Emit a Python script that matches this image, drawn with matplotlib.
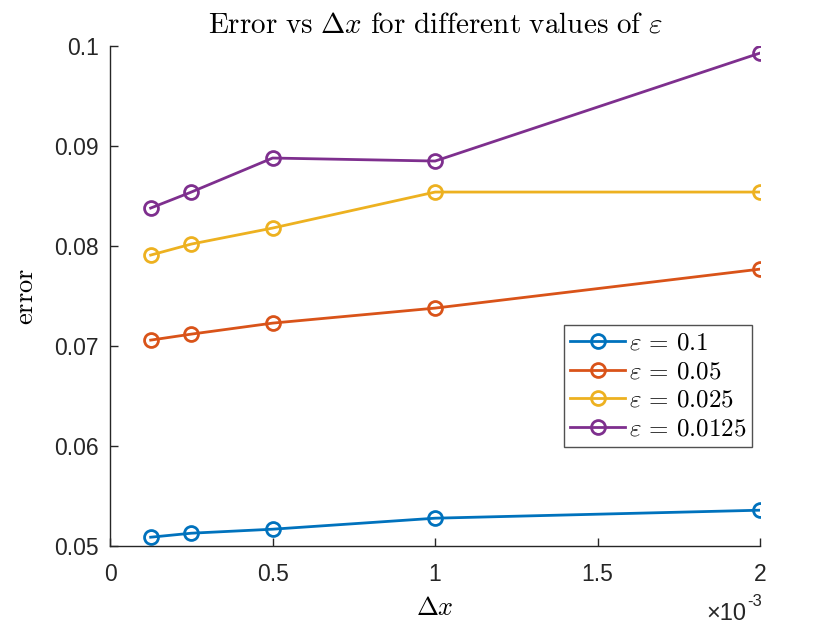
import matplotlib
matplotlib.use("Agg")
import matplotlib.pyplot as plt
from matplotlib.ticker import FuncFormatter

plt.rcParams['mathtext.fontset'] = 'cm'
plt.rcParams['font.family'] = ['Liberation Sans', 'DejaVu Sans']

# data
dx = [0.125e-3, 0.25e-3, 0.5e-3, 1e-3, 2e-3]
eps_labels = ["0.1", "0.05", "0.025", "0.0125"]
err_01 = [0.0509, 0.0513, 0.0517, 0.0528, 0.0536]
err_005 = [0.0706, 0.0712, 0.0723, 0.0738, 0.0777]
err_0025 = [0.0791, 0.0802, 0.0818, 0.0854, 0.0854]
err_00125 = [0.0838, 0.0854, 0.0888, 0.0885, 0.0993]
colors = ["#0072BD", "#D95319", "#EDB120", "#7E2F8E"]

fig = plt.figure(figsize=(8.4, 6.3), dpi=100)
ax = fig.add_axes([0.131, 0.133, 0.774, 0.794])

for err, lab, c in zip([err_01, err_005, err_0025, err_00125], eps_labels, colors):
    ax.plot(dx, err, '-o', color=c, lw=2, ms=10, mfc='none', mew=2,
            label=r'$\varepsilon\,=\,%s$' % lab)

ax.set_xlim(0, 2e-3)
ax.set_ylim(0.05, 0.1)
ax.set_xticks([0, 0.5e-3, 1e-3, 1.5e-3, 2e-3])
ax.set_yticks([0.05, 0.06, 0.07, 0.08, 0.09, 0.1])
ax.xaxis.set_major_formatter(FuncFormatter(lambda v, p: "%g" % round(v * 1e3, 6)))
ax.yaxis.set_major_formatter(FuncFormatter(lambda v, p: "%g" % round(v, 6)))
ax.tick_params(direction='in', labelsize=16.5, length=6, width=1, colors='#262626')
ax.tick_params(axis='x', pad=12)
ax.tick_params(axis='y', pad=8)
for s in ['top', 'right']:
    ax.spines[s].set_visible(False)
for s in ['left', 'bottom']:
    ax.spines[s].set_color('#262626')
    ax.spines[s].set_linewidth(1)

ax.set_title(r'$\mathrm{Error\ vs\ }\Delta x\mathrm{\ for\ different\ values\ of\ }\varepsilon$',
             fontsize=21, pad=10)
ax.set_xlabel(r'$\Delta x$', fontsize=19, labelpad=7)
ax.set_ylabel(r'$\mathrm{error}$', fontsize=19, labelpad=12)

# exponent label like MATLAB
ax.text(0.978, -0.135, u"\u00d710", transform=ax.transAxes, fontsize=17,
        ha='right', va='center', color='#262626')
ax.text(0.980, -0.125, "-3", transform=ax.transAxes, fontsize=12,
        ha='left', va='bottom', color='#262626')

leg = ax.legend(loc='upper left', bbox_to_anchor=(0.698, 0.443), fontsize=18,
                frameon=True, fancybox=False, handlelength=2.2,
                borderpad=0.25, labelspacing=0.18, handletextpad=0.15,
                borderaxespad=0)
leg.get_frame().set_edgecolor('#262626')
leg.get_frame().set_linewidth(1)

fig.savefig("out.png", dpi=100)
